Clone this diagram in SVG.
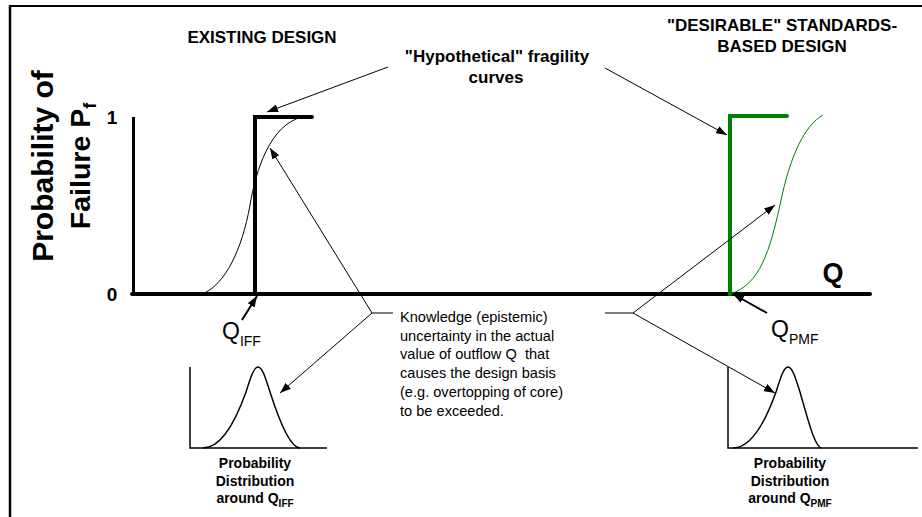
<svg xmlns="http://www.w3.org/2000/svg" width="922" height="517" viewBox="0 0 922 517">
<style>
  text { font-family: "Liberation Sans", Arial, sans-serif; fill: #000; }
  .b { font-weight: bold; }
  .title { font-size: 17px; font-weight: bold; text-anchor: middle; }
  .body { font-size: 14.6px; }
  .cap { font-size: 14px; font-weight: bold; text-anchor: middle; }
  .thin { fill: none; stroke: #000; stroke-width: 1; }
  .ax { fill: none; stroke: #000; }
</style>
<defs>
  <marker id="ah" markerUnits="userSpaceOnUse" markerWidth="11" markerHeight="8" refX="11" refY="4" orient="auto">
    <path d="M0,0 L11,4 L0,8 z" fill="#000"/>
  </marker>
</defs>
<rect width="922" height="517" fill="#fff"/>
<g id="frame">
  <line x1="9" y1="6" x2="922" y2="6" stroke="#000" stroke-width="2"/>
  <line x1="10" y1="5" x2="10" y2="517" stroke="#000" stroke-width="2.5"/>
</g>
<g id="axes">
  <line x1="133.5" y1="117" x2="133.5" y2="294" class="ax" stroke-width="3"/>
  <line x1="132" y1="294" x2="870" y2="294" class="ax" stroke-width="4" stroke-linecap="round"/>
  <text class="b" x="112" y="124" font-size="19" text-anchor="middle">1</text>
  <text class="b" x="112" y="301" font-size="19" text-anchor="middle">0</text>
  <text class="b" x="833" y="282" font-size="27" text-anchor="middle">Q</text>
  <text class="b" transform="rotate(-90)" x="-166" y="53" font-size="30" text-anchor="middle">Probability of</text>
  <text class="b" transform="rotate(-90)" x="-166" y="90" font-size="28.5" text-anchor="middle">Failure P<tspan font-size="18" dy="6">f</tspan></text>
</g>
<g id="existing-curves">
  <path d="M202,294 C225,285 242,250 250,205 C256,170 270,125 302,117" class="thin"/>
  <path d="M255,294 L255,117 L312,117" fill="none" stroke="#000" stroke-width="4" stroke-linecap="round"/>
</g>
<g id="desirable-curves">
  <path d="M730,294 C760,285 770,250 780,205 C790,155 805,125 823,115" fill="none" stroke="#008000" stroke-width="1"/>
  <path d="M730,294 L730,116 L787,116" fill="none" stroke="#008000" stroke-width="4" stroke-linecap="round"/>
</g>
<g id="titles">
  <text class="title" x="262" y="43">EXISTING DESIGN</text>
  <text class="title" x="497" y="62">"Hypothetical" fragility</text>
  <text class="title" x="496" y="83">curves</text>
  <text class="title" x="782" y="31">"DESIRABLE" STANDARDS-</text>
  <text class="title" x="782" y="52">BASED DESIGN</text>
</g>
<g id="q-labels">
  <text x="222" y="339" font-size="23">Q<tspan font-size="14" dy="7">IFF</tspan></text>
  <text x="771" y="337" font-size="23">Q<tspan font-size="14" dy="7">PMF</tspan></text>
</g>
<g id="knowledge-note">
  <text class="body" x="400" y="322">Knowledge (epistemic)</text>
  <text class="body" x="400" y="340.7">uncertainty in the actual</text>
  <text class="body" x="400" y="359.4" xml:space="preserve">value of outflow Q  that</text>
  <text class="body" x="400" y="378">causes the design basis</text>
  <text class="body" x="400" y="396.8">(e.g. overtopping of core)</text>
  <text class="body" x="400" y="415.5">to be exceeded.</text>
</g>
<g id="dist-left">
  <path d="M190,367 L190,448 L327,448" fill="none" stroke="#000" stroke-width="1.5"/>
  <path d="M203,448 C222,448 236,420 246,392 C251,376 254,367 258,367 C262,367 265,376 270,392 C279,420 290,448 300,448" fill="none" stroke="#000" stroke-width="1.5"/>
  <text class="cap" x="255" y="468">Probability</text>
  <text class="cap" x="255" y="485.5">Distribution</text>
  <text class="cap" x="255" y="503">around Q<tspan font-size="10" dy="4">IFF</tspan></text>
</g>
<g id="dist-right">
  <path d="M728,367 L728,448 L918,448" fill="none" stroke="#000" stroke-width="1.5"/>
  <path d="M733,448 C752,448 766,420 776,392 C781,376 784,367 788,367 C792,367 795,376 800,392 C808,420 815,448 822,448" fill="none" stroke="#000" stroke-width="1.5"/>
  <text class="cap" x="790" y="468">Probability</text>
  <text class="cap" x="790" y="485.5">Distribution</text>
  <text class="cap" x="790" y="503">around Q<tspan font-size="10" dy="4">PMF</tspan></text>
</g>
<g id="connectors">
  <line x1="388" y1="67" x2="267" y2="112" class="thin" marker-end="url(#ah)"/>
  <line x1="605" y1="68" x2="727" y2="135" class="thin" marker-end="url(#ah)"/>
  <line x1="242" y1="320" x2="257" y2="296" stroke="#000" stroke-width="2" marker-end="url(#ah)"/>
  <line x1="767" y1="313" x2="733" y2="294" stroke="#000" stroke-width="2" marker-end="url(#ah)"/>
  <line x1="372" y1="313" x2="393" y2="313" class="thin"/>
  <line x1="372" y1="313" x2="270" y2="148" class="thin" marker-end="url(#ah)"/>
  <line x1="372" y1="313" x2="280" y2="393" class="thin" marker-end="url(#ah)"/>
  <line x1="605" y1="313" x2="633" y2="313" class="thin"/>
  <line x1="633" y1="313" x2="775" y2="205" class="thin" marker-end="url(#ah)"/>
  <line x1="633" y1="313" x2="775" y2="393" class="thin" marker-end="url(#ah)"/>
</g>
</svg>
